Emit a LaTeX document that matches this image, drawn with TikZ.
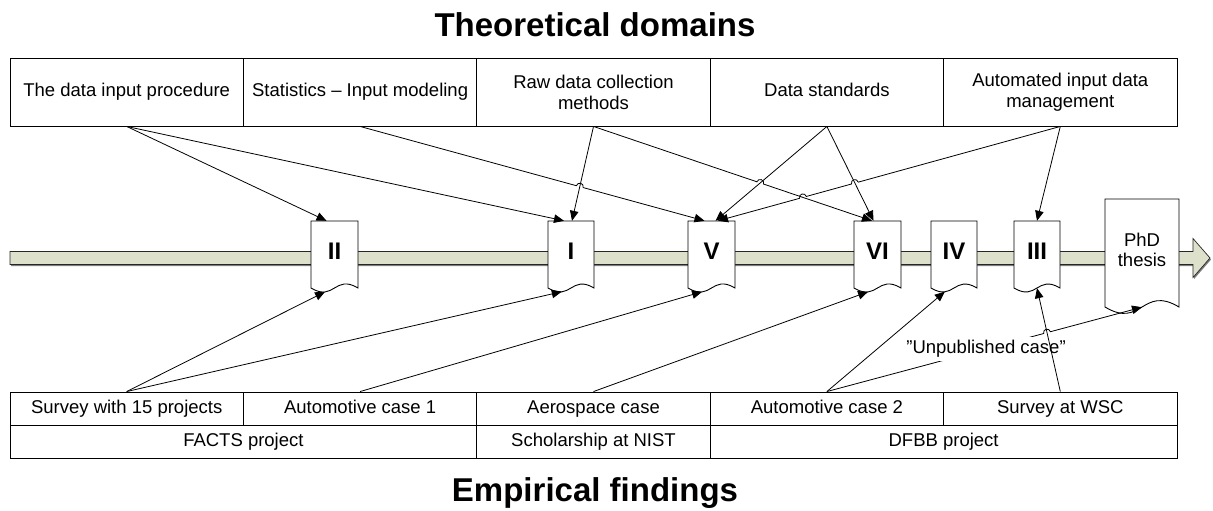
\documentclass[tikz,border=0pt]{standalone}
\usepackage{fontspec}
\setmainfont{Liberation Sans}
\usetikzlibrary{arrows.meta,calc,intersections}

\definecolor{barfill}{RGB}{221,225,204}
\definecolor{barshade}{RGB}{125,125,125}

% Paper as a "document" shape with a wavy lower edge.
% #1 name, #2 x, #3 y (centre), #4 width, #5 height, #6 text style, #7 text
\newcommand\paperdoc[7]{%
  \pgfmathsetmacro\docL{#2-#4/2}%
  \pgfmathsetmacro\docR{#2+#4/2}%
  \pgfmathsetmacro\docT{#3-#5/2}%
  \pgfmathsetmacro\docB{#3+#5/2}%
  \pgfmathsetmacro\docW{0.3*#4}%
  \draw[docline] (\docL,\docB) -- (\docL,\docT) -- (\docR,\docT) -- (\docR,\docB)
    .. controls (#2,\docB-\docW) and (#2,\docB+\docW) .. (\docL,\docB) -- cycle;
  \node[docframe, minimum width=#4, minimum height=#5] (#1) at (#2,#3) {};
  \node[#6] (#1-l) at (#2,#3-3) {#7};
  \coordinate (#1-b) at ({#2-0.2*#4},{#3+#5/2+0.08*#4});
}

% Line jump over a crossing at #1 on a connector running from #2 (left) to #3 (right)
\newcommand\hop[3]{-- ($(#1)!3.5pt!(#2)$) .. controls ($(#1)!5.8pt!-53:(#2)$) and ($(#1)!5.8pt!53:(#3)$) .. ($(#1)!3.5pt!(#3)$)}

\begin{document}
\begin{tikzpicture}[x=1pt,y=-1pt,
  cell/.style={draw, line width=0.9pt, inner sep=0pt, align=center,
    minimum width=233.4pt, font=\fontsize{18.5}{21}\selectfont},
  oneline/.style={text height=13.5pt, text depth=4pt},
  title/.style={anchor=base, inner sep=0pt, font=\fontsize{33}{36}\selectfont\bfseries},
  docline/.style={draw, fill=white, line width=0.9pt},
  docframe/.style={inner sep=0pt},
  numeral/.style={inner sep=0pt, font=\fontsize{24}{26}\selectfont\bfseries},
  thesis/.style={inner sep=0pt, align=center, font=\fontsize{18.5}{20.5}\selectfont},
  conn/.style={draw, line width=0.8pt, -{Triangle[length=10pt,width=8.5pt]}},
  rconn/.style={draw, line width=0.8pt, {Triangle[length=10pt,width=8.5pt]}-},
  lbl/.style={fill=white, inner sep=3.5pt, font=\fontsize{18.5}{21}\selectfont}
]
\useasboundingbox (0,0) rectangle (1213,511);

% titles
\node[title] (theo) at (595,37) {Theoretical domains};
\node[title] (emp) at (595,501.7) {Empirical findings};

% theoretical domains
\node[cell, oneline, minimum height=68] (t1) at (126.7,92) {The data input procedure};
\node[cell, oneline, minimum height=68] (t2) at (360.1,92) {Statistics – Input modeling};
\node[cell, minimum height=68] (t3) at (593.5,92) {Raw data collection\\methods};
\node[cell, oneline, minimum height=68] (t4) at (826.9,92) {Data standards};
\node[cell, minimum height=68] (t5) at (1060.3,92) {Automated input data\\management};

% empirical findings
\node[cell, oneline, minimum height=33] (b1) at (126.7,408.5) {Survey with 15 projects};
\node[cell, oneline, minimum height=33] (b2) at (360.1,408.5) {Automotive case 1};
\node[cell, oneline, minimum height=33] (b3) at (593.5,408.5) {Aerospace case};
\node[cell, oneline, minimum height=33] (b4) at (826.9,408.5) {Automotive case 2};
\node[cell, oneline, minimum height=33] (b5) at (1060.3,408.5) {Survey at WSC};
\node[cell, oneline, minimum height=33, minimum width=466.8pt] (f1) at (243.4,441.5) {FACTS project};
\node[cell, oneline, minimum height=33] (f2) at (593.5,441.5) {Scholarship at NIST};
\node[cell, oneline, minimum height=33, minimum width=466.8pt] (f3) at (943.6,441.5) {DFBB project};

% time line
\begin{scope}[shift={(1,1.6)}]
  \fill[barshade] (10,251.5) -- (1193,251.5) -- (1193,238.5) -- (1210,258) -- (1193,277.5) -- (1193,264.5) -- (10,264.5) -- cycle;
\end{scope}
\draw[fill=barfill, draw=black!85, line width=0.7pt] (10,251.5) -- (1193,251.5) -- (1193,238.5) -- (1210,258) -- (1193,277.5) -- (1193,264.5) -- (10,264.5) -- cycle;

% papers
\paperdoc{II}{334.5}{254.5}{47}{67}{numeral}{II}
\paperdoc{I}{571}{254.5}{46}{67}{numeral}{I}
\paperdoc{V}{711.5}{254.5}{47}{67}{numeral}{V}
\paperdoc{VI}{877.5}{254.5}{47}{67}{numeral}{VI}
\paperdoc{IV}{954}{254.5}{46}{67}{numeral}{IV}
\paperdoc{III}{1037}{254.5}{46}{67}{numeral}{III}
\paperdoc{PhD}{1142}{253}{74}{108}{thesis}{PhD\\thesis}

% arrow end points on the upper edges
\coordinate (II-in) at ($(II.north)+(-8,0)$);
\coordinate (I-in1) at ($(I.north)+(-7,0)$);
\coordinate (I-in2) at ($(I.north)+(1,0)$);
\coordinate (V-in1) at ($(V.north)+(-7,0)$);
\coordinate (V-in2) at ($(V.north)+(4,0)$);
\coordinate (V-in3) at ($(V.north)+(6.5,0)$);
\coordinate (VI-in1) at ($(VI.north)+(-5.5,0)$);
\coordinate (VI-in2) at ($(VI.north)+(-4,0)$);
\coordinate (III-in) at (III.north);

% crossings
\path[name path=pRawI] (t3.south) -- (I-in2);
\path[name path=pStatV] (t2.south) -- (V-in1);
\path[name path=pRawVI] (t3.south) -- (VI-in1);
\path[name path=pStdV] (t4.south) -- (V-in2);
\path[name path=pStdVI] (t4.south) -- (VI-in2);
\path[name path=pAutoV] (t5.south) -- (V-in3);
\path[name path=pWsc] (b5.north) -- (III.south);
\path[name path=pUnpub] (b4.north) -- (PhD.south);
\path[name intersections={of=pRawI and pStatV, by=h1}];
\path[name intersections={of=pRawVI and pStdV, by=h2}];
\path[name intersections={of=pAutoV and pRawVI, by=h3}];
\path[name intersections={of=pAutoV and pStdVI, by=h4}];
\path[name intersections={of=pUnpub and pWsc, by=h5}];

% theory to papers
\draw[conn] (t1.south) -- (II-in);
\draw[conn] (t1.south) -- (I-in1);
\draw[conn] (t3.south) -- (I-in2);
\draw[conn] (t2.south) \hop{h1}{t2.south}{V-in1} -- (V-in1);
\draw[conn] (t3.south) \hop{h2}{t3.south}{VI-in1} -- (VI-in1);
\draw[conn] (t4.south) -- (V-in2);
\draw[conn] (t4.south) -- (VI-in2);
\draw[rconn] (V-in3) \hop{h3}{V-in3}{t5.south} \hop{h4}{V-in3}{t5.south} -- (t5.south);
\draw[conn] (t5.south) -- (III-in);

% empirical work to papers
\draw[conn] (b1.north) -- (II-b);
\draw[conn] (b1.north) -- (I-b);
\draw[conn] (b2.north) -- (V-b);
\draw[conn] (b3.north) -- (VI-b);
\draw[conn] (b4.north) -- (IV-b);
\draw[conn] (b4.north) \hop{h5}{b4.north}{PhD.south} -- (PhD.south);
\node[lbl] (unpub) at ($(b4.north)!0.505!(PhD.south)$) {”Unpublished case”};
\draw[conn] (b5.north) -- (III.south);
\end{tikzpicture}
\end{document}
